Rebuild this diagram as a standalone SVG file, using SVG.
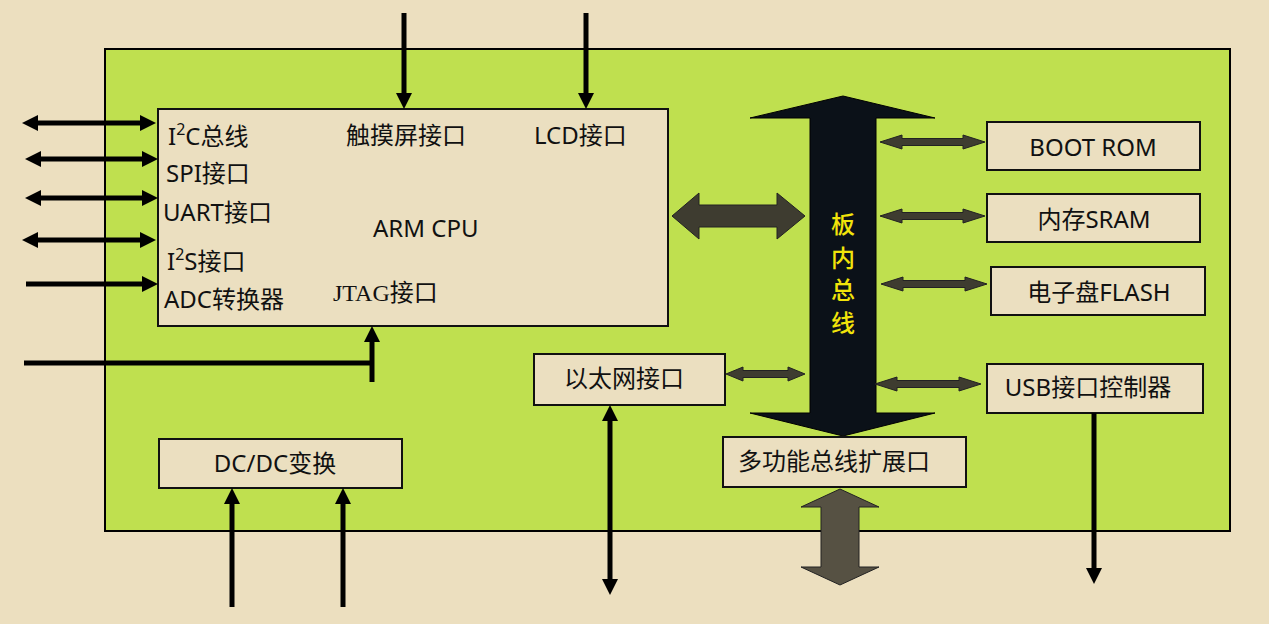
<svg xmlns="http://www.w3.org/2000/svg" width="1269" height="624" viewBox="0 0 1269 624">
<style>
.bg{fill:#ECDFBF}
.board{fill:#BFE04F;stroke:#000;stroke-width:2}
.box{fill:#EBDFC0;stroke:#111;stroke-width:2}
.t{font-family:"Noto Sans","Noto Sans CJK SC",sans-serif;font-size:24px;fill:#111}
.ts{font-family:"Liberation Serif","Noto Sans CJK SC",serif;font-size:24px;fill:#111}
.bus{fill:#0B1118;stroke:#000;stroke-width:1}
.yl{font-family:"Noto Sans CJK SC",sans-serif;font-size:24px;font-weight:500;fill:#F2E40A;text-anchor:middle}
.ln{stroke:#000;stroke-width:5;fill:none}
.da{fill:#3E3C30;stroke:#222;stroke-width:1}
.ga{fill:#565143;stroke:#222;stroke-width:1}
</style>
<defs>
<marker id="ah" markerUnits="userSpaceOnUse" markerWidth="16" markerHeight="16" viewBox="0 0 16 16" refX="7" refY="8" orient="auto-start-reverse">
<path d="M0,0 L16,8 L0,16 z" fill="#000"/>
</marker>
</defs>
<rect class="bg" x="0" y="0" width="1269" height="624"/>
<rect class="board" x="105" y="49" width="1125" height="482"/>

<g id="cpu">
<rect class="box" x="158" y="109" width="510" height="217"/>
<text class="t" x="168" y="145">I<tspan font-size="16" dy="-10">2</tspan><tspan dy="10">C总线</tspan></text>
<text class="t" x="166" y="182">SPI接口</text>
<text class="t" x="163" y="221">UART接口</text>
<text class="t" x="167" y="270">I<tspan font-size="16" dy="-10">2</tspan><tspan dy="10">S接口</tspan></text>
<text class="t" x="164" y="308">ADC转换器</text>
<text class="t" x="346" y="144">触摸屏接口</text>
<text class="t" x="534" y="144">LCD接口</text>
<text class="t" x="373" y="237" font-size="22">ARM CPU</text>
<text class="ts" x="333" y="301">JTAG<tspan font-family="Noto Sans CJK SC" font-size="24">接口</tspan></text>
</g>

<g id="bus">
<polygon class="bus" points="843,96 935,118 876,118 876,413 935,413 843,436 750,413 810,413 810,118 750,118"/>
<text class="yl" x="843" y="233">板</text>
<text class="yl" x="843" y="267">内</text>
<text class="yl" x="843" y="299">总</text>
<text class="yl" x="843" y="332">线</text>
</g>

<g id="bootrom">
<rect class="box" x="987" y="122" width="213" height="48"/>
<text class="t" x="1093" y="156" text-anchor="middle">BOOT ROM</text>
</g>
<g id="sram">
<rect class="box" x="987" y="194" width="213" height="48"/>
<text class="t" x="1094" y="228" text-anchor="middle">内存SRAM</text>
</g>
<g id="flash">
<rect class="box" x="991" y="267" width="214" height="48"/>
<text class="t" x="1099" y="301" text-anchor="middle">电子盘FLASH</text>
</g>
<g id="usb">
<rect class="box" x="987" y="364" width="216" height="49"/>
<text class="t" x="1088" y="396" text-anchor="middle">USB接口控制器</text>
</g>
<g id="ethernet">
<rect class="box" x="534" y="354" width="191" height="51"/>
<text class="t" x="624" y="387" text-anchor="middle">以太网接口</text>
</g>
<g id="expansion">
<rect class="box" x="723" y="437" width="243" height="50"/>
<text class="t" x="834" y="470" text-anchor="middle">多功能总线扩展口</text>
</g>
<g id="dcdc">
<rect class="box" x="159" y="439" width="243" height="49"/>
<text class="t" x="275" y="472" text-anchor="middle">DC/DC变换</text>
</g>

<g id="connectors">
<line class="ln" x1="31" y1="123" x2="147" y2="123" marker-start="url(#ah)" marker-end="url(#ah)"/>
<line class="ln" x1="34" y1="159" x2="149" y2="159" marker-start="url(#ah)" marker-end="url(#ah)"/>
<line class="ln" x1="34" y1="198" x2="149" y2="198" marker-start="url(#ah)" marker-end="url(#ah)"/>
<line class="ln" x1="31" y1="240" x2="147" y2="240" marker-start="url(#ah)" marker-end="url(#ah)"/>
<line class="ln" x1="26" y1="284" x2="149" y2="284" marker-end="url(#ah)"/>
<line class="ln" x1="24" y1="363" x2="374" y2="363"/>
<line class="ln" x1="372" y1="382" x2="372" y2="335" marker-end="url(#ah)"/>
<line class="ln" x1="404" y1="13" x2="404" y2="100" marker-end="url(#ah)"/>
<line class="ln" x1="586" y1="13" x2="586" y2="100" marker-end="url(#ah)"/>
<line class="ln" x1="232" y1="607" x2="232" y2="497" marker-end="url(#ah)"/>
<line class="ln" x1="343" y1="607" x2="343" y2="497" marker-end="url(#ah)"/>
<line class="ln" x1="610" y1="414" x2="610" y2="586" marker-start="url(#ah)" marker-end="url(#ah)"/>
<line class="ln" x1="1094" y1="413" x2="1094" y2="575" marker-end="url(#ah)"/>
<polygon class="da" points="672,216 699,193 699,205 777,205 777,193 805,216 777,239 777,227 699,227 699,239"/>
<polygon class="da" points="880,142 902,135 902,138.5 963,138.5 963,135 985,142 963,149 963,145.5 902,145.5 902,149"/>
<polygon class="da" points="880,216 902,209 902,212.5 963,212.5 963,209 985,216 963,223 963,219.5 902,219.5 902,223"/>
<polygon class="da" points="881,284 903,277 903,280.5 965,280.5 965,277 987,284 965,291 965,287.5 903,287.5 903,291"/>
<polygon class="da" points="875,384 897,377 897,380.5 959,380.5 959,377 981,384 959,391 959,387.5 897,387.5 897,391"/>
<polygon class="da" points="726,374 743,367 743,370.5 788,370.5 788,367 805,374 788,381 788,377.5 743,377.5 743,381"/>
<polygon class="ga" points="840,489 879,507 859,507 859,567 879,567 840,585 801,567 821,567 821,507 801,507"/>
</g>
</svg>
